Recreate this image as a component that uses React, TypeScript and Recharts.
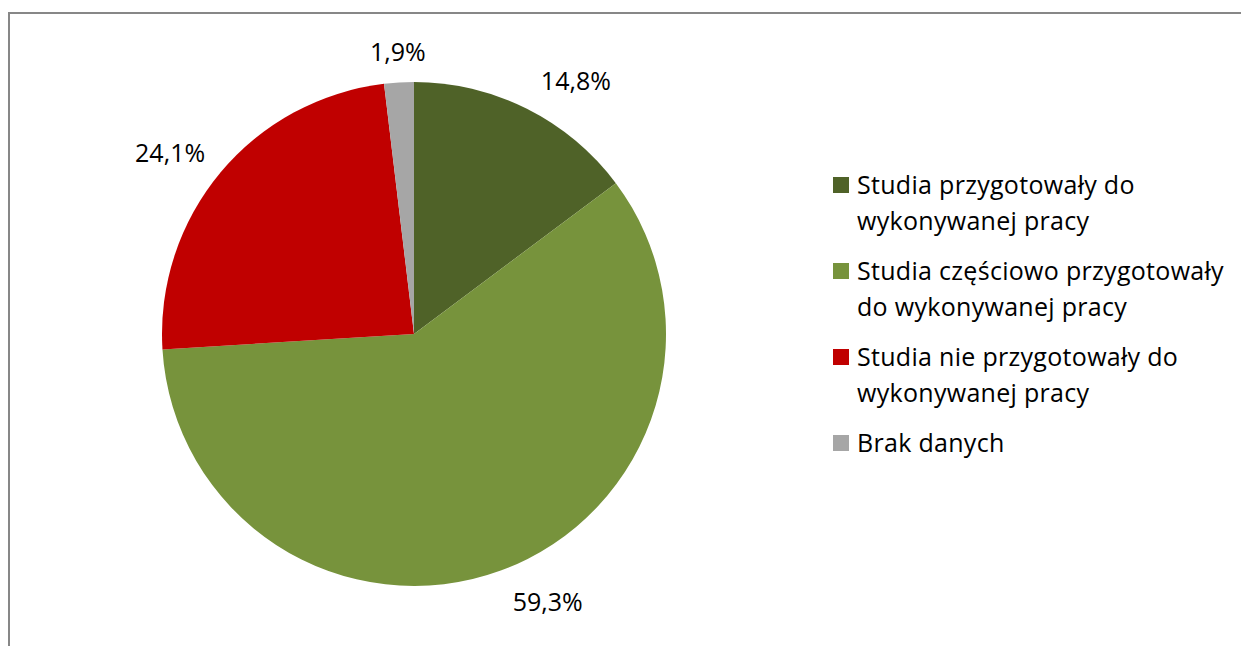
import React from "react";
import { PieChart, Pie, Cell } from "recharts";

const categories = [
  "Studia przygotowały do wykonywanej pracy",
  "Studia częściowo przygotowały do wykonywanej pracy",
  "Studia nie przygotowały do wykonywanej pracy",
  "Brak danych",
];
const legendLines = [
  ["Studia przygotowały do", "wykonywanej pracy"],
  ["Studia częściowo przygotowały", "do wykonywanej pracy"],
  ["Studia nie przygotowały do", "wykonywanej pracy"],
  ["Brak danych"],
];
const values = [14.8, 59.3, 24.1, 1.9];
const labels = ["14,8%", "59,3%", "24,1%", "1,9%"];
const colors = ["#4F6228", "#77933C", "#C00000", "#A6A6A6"];

const data = categories.map((name, i) => ({ name, value: values[i], label: labels[i] }));

const FONT = "'Open Sans', 'Liberation Sans', sans-serif";
const RAD = Math.PI / 180;

const renderLabel = (props: any) => {
  const { cx, cy, midAngle, outerRadius, index } = props;
  const r = outerRadius + 20;
  const cos = Math.cos(-midAngle * RAD);
  const sin = Math.sin(-midAngle * RAD);
  const x = cx + r * cos + (cos > 0.2 ? 5 : 0);
  const y = cy + r * sin;
  const anchor = Math.abs(cos) < 0.2 ? "middle" : cos > 0 ? "start" : "end";
  const yy = y + sin * 12;
  return (
    <text
      x={x}
      y={yy}
      textAnchor={anchor}
      dominantBaseline="central"
      fill="#000"
      fontSize={25}
      fontFamily={FONT}
    >
      {labels[index]}
    </text>
  );
};

const LegendBox = () => (
  <div
    style={{
      position: "absolute",
      left: 833,
      top: 166,
      fontFamily: FONT,
      fontSize: 25,
      letterSpacing: 0.3,
      color: "#000",
    }}
  >
    {legendLines.map((lines, i) => (
      <div key={i} style={{ display: "flex", alignItems: "flex-start", marginBottom: 14 }}>
        <div
          style={{
            width: 16,
            height: 16,
            background: colors[i],
            marginTop: 11,
            marginRight: 8,
            flex: "0 0 auto",
          }}
        />
        <div style={{ lineHeight: "36px" }}>
          {lines.map((l, j) => (
            <div key={j} style={{ whiteSpace: "nowrap" }}>{l}</div>
          ))}
        </div>
      </div>
    ))}
  </div>
);

export default function App() {
  return (
    <div style={{ position: "absolute", left: 0, top: 0, width: 1241, height: 700, overflow: "hidden", background: "#fff" }}>
      <div
        style={{
          position: "absolute",
          left: 8,
          top: 12,
          width: 1300,
          height: 800,
          border: "2px solid #878787",
          boxSizing: "border-box",
        }}
      />
      <div style={{ position: "absolute", left: 0, top: 0 }}>
        <PieChart width={1241} height={646} margin={{ top: 0, right: 0, bottom: 0, left: 0 }}>
          <Pie
            data={data}
            dataKey="value"
            nameKey="name"
            cx={414}
            cy={334}
            outerRadius={252}
            startAngle={90}
            endAngle={-270}
            stroke="none"
            isAnimationActive={false}
            label={renderLabel}
            labelLine={false}
          >
            {data.map((d, i) => (
              <Cell key={d.name} fill={colors[i]} />
            ))}
          </Pie>
        </PieChart>
      </div>
      <LegendBox />
    </div>
  );
}
